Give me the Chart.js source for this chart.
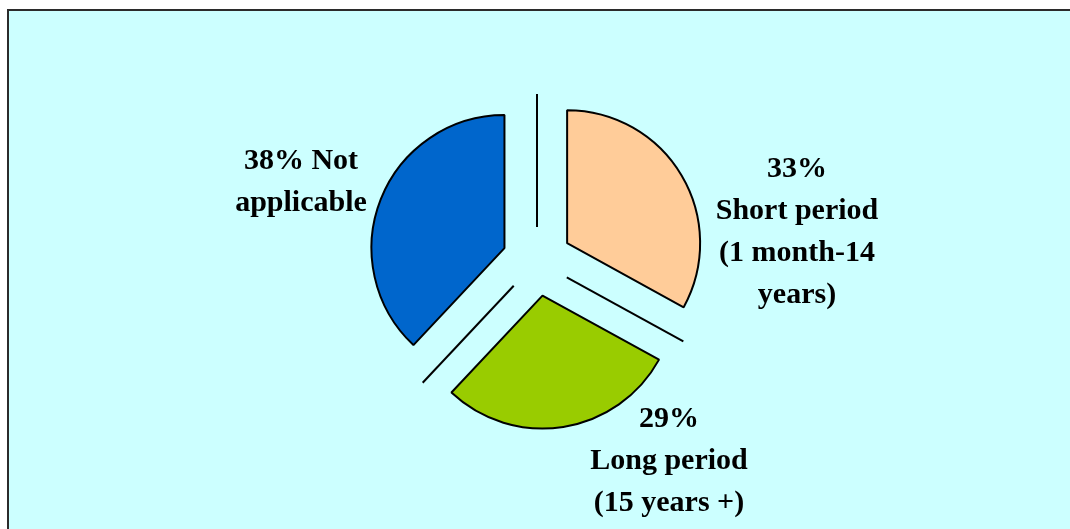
<!DOCTYPE html>
<html>
<head>
<meta charset="utf-8">
<script src="https://cdn.jsdelivr.net/npm/chart.js@4/dist/chart.umd.min.js"></script>
<style>
  html, body { margin: 0; padding: 0; background: #fff; }
  canvas { display: block; }
</style>
</head>
<body>
<canvas id="pie-chart" width="1070" height="529"></canvas>
<script>
// data
var categories = ["Short period (1 month-14 years)", "Long period (15 years +)", "Not applicable"];
var percents = [33, 29, 38];
var labelLines = [
  ["33%", "Short period", "(1 month-14", "years)"],
  ["29%", "Long period", "(15 years +)"],
  ["38% Not", "applicable"]
];
var colors = ["#FFCC99", "#99CC00", "#0066CC"];

// layout: label block centres relative to pie centre
var labelPos = [[260, -29], [132, 200], [-236, -79]];
var explode = 35;

// frame + cyan background
var frame = {
  id: 'frame',
  beforeDraw: function(chart) {
    var ctx = chart.ctx;
    ctx.save();
    ctx.fillStyle = '#ffffff';
    ctx.fillRect(0, 0, chart.width, chart.height);
    ctx.fillStyle = '#CCFFFF';
    ctx.fillRect(7, 9, chart.width - 7, chart.height - 9);
    ctx.fillStyle = '#2b2b2b';
    ctx.fillRect(7, 9, chart.width - 7, 2);
    ctx.fillRect(7, 9, 2, chart.height - 9);
    ctx.restore();
  }
};

// push every slice out along its middle angle
var explodeSlices = {
  id: 'explodeSlices',
  afterDatasetUpdate: function(chart, args) {
    var meta = chart.getDatasetMeta(args.index);
    meta.data.forEach(function(arc) {
      var mid = (arc.startAngle + arc.endAngle) / 2;
      arc.x += Math.cos(mid) * explode;
      arc.y += Math.sin(mid) * explode;
    });
  }
};

// the cut lines between slices + the text labels
var cutsAndLabels = {
  id: 'cutsAndLabels',
  afterDatasetsDraw: function(chart) {
    var ctx = chart.ctx;
    var a = chart.chartArea;
    var cx = (a.left + a.right) / 2, cy = (a.top + a.bottom) / 2;
    var meta = chart.getDatasetMeta(0);
    ctx.save();
    ctx.strokeStyle = '#000';
    ctx.lineWidth = 2;
    meta.data.forEach(function(arc) {
      var ang = arc.startAngle;
      var r0 = explode - 1, r1 = r0 + arc.outerRadius;
      ctx.beginPath();
      ctx.moveTo(cx + Math.cos(ang) * r0, cy + Math.sin(ang) * r0);
      ctx.lineTo(cx + Math.cos(ang) * r1, cy + Math.sin(ang) * r1);
      ctx.stroke();
    });
    ctx.fillStyle = '#000';
    ctx.font = 'bold 30px "Liberation Serif", "Times New Roman", serif';
    ctx.textAlign = 'center';
    ctx.textBaseline = 'middle';
    labelLines.forEach(function(lines, i) {
      var lh = 42;
      var x = cx + labelPos[i][0];
      var y0 = cy + labelPos[i][1] - (lines.length - 1) * lh / 2;
      lines.forEach(function(t, j) {
        ctx.fillText(t, x, y0 + j * lh);
      });
    });
    ctx.restore();
  }
};

new Chart(document.getElementById("pie-chart"), {
  type: 'pie',
  data: {
    labels: categories,
    datasets: [{
      data: percents,
      backgroundColor: colors,
      borderColor: "#000",
      borderWidth: 2
    }]
  },
  options: {
    responsive: false,
    animation: false,
    radius: 133,
    layout: { padding: { left: 4, right: 0, top: 0, bottom: 7 } },
    plugins: {
      legend: { display: false },
      tooltip: { enabled: false },
      title: { display: false }
    }
  },
  plugins: [frame, explodeSlices, cutsAndLabels]
});
</script>
</body>
</html>
